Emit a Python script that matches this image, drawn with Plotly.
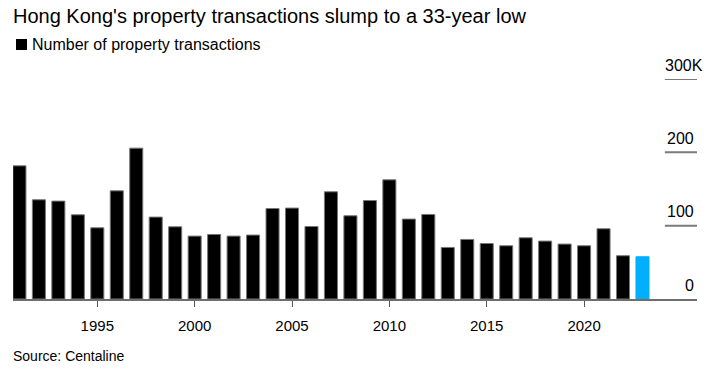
import plotly.graph_objects as go

years = list(range(1991, 2024))
transactions_k = [181.6, 135.3, 133.5, 114.8, 97.1, 147.5, 205.7, 111.7, 98.5, 85.8,
                  88.0, 85.8, 87.2, 123.4, 124.0, 98.9, 146.2, 113.5, 134.3, 162.5,
                  109.0, 115.3, 70.3, 81.2, 75.7, 72.6, 83.5, 79.0, 74.9, 72.6,
                  95.8, 59.0, 57.6]
highlight_year = 2023
y_ticks = [0, 100, 200, 300]
y_tick_labels = ["0", "100", "200", "300K"]
x_ticks = [1995, 2000, 2005, 2010, 2015, 2020]

title_text = "Hong Kong's property transactions slump to a 33-year low"
legend_text = "Number of property transactions"
source_text = "Source: Centaline"

FONT = "Liberation Sans, Arial, Helvetica, sans-serif"
X_MIN, X_MAX = 1990.67, 2025.8
GRID_X0 = 2024.15
colors = ["#00b0ff" if y == highlight_year else "#000000" for y in years]
line_colors = ["#00b0ff" if y == highlight_year else "#777777" for y in years]

fig = go.Figure()
fig.add_trace(go.Bar(
    x=years, y=transactions_k, width=0.67,
    marker=dict(color=colors, line=dict(color=line_colors, width=1)),
    showlegend=False, hoverinfo="x+y",
))

shapes = []
annotations = []
for v, lab in zip(y_ticks, y_tick_labels):
    if v > 0:
        shapes.append(dict(type="line", xref="x", yref="y", x0=GRID_X0, x1=X_MAX,
                           y0=v, y1=v, line=dict(color="#7a7a7a", width=2)))
    if lab.endswith("K"):
        annotations.append(dict(x=GRID_X0, y=v, xref="x", yref="y", text=lab, showarrow=False,
                                xanchor="left", yanchor="middle", xshift=-2, yshift=14,
                                font=dict(family=FONT, size=16, color="#000")))
    else:
        annotations.append(dict(x=X_MAX, y=v, xref="x", yref="y", text=lab, showarrow=False,
                                xanchor="right", yanchor="middle", xshift=-1, yshift=14,
                                font=dict(family=FONT, size=16, color="#000")))

def py(pix):
    return (299.0 - pix) / 220.0

annotations.append(dict(x=0, y=py(15.5), xref="paper", yref="paper", text=title_text,
                        showarrow=False, xanchor="left", yanchor="middle", xshift=-1,
                        borderpad=0,
                        font=dict(family=FONT, size=20, color="#000")))
annotations.append(dict(x=0, y=py(44.5), xref="paper", yref="paper", text=legend_text,
                        showarrow=False, xanchor="left", yanchor="middle", xshift=17,
                        font=dict(family=FONT, size=16, color="#000")))
annotations.append(dict(x=0, y=py(356), xref="paper", yref="paper", text=source_text,
                        showarrow=False, xanchor="left", yanchor="middle", xshift=-2,
                        font=dict(family=FONT, size=14, color="#000")))
shapes.append(dict(type="rect", xref="paper", yref="paper",
                   x0=3 / 684, x1=14 / 684, y0=py(50), y1=py(39),
                   fillcolor="#000", line=dict(width=0)))

fig.update_layout(
    width=724, height=375,
    margin=dict(l=13, r=27, t=79, b=76),
    paper_bgcolor="white", plot_bgcolor="white",
    shapes=shapes, annotations=annotations,
    xaxis=dict(range=[X_MIN, X_MAX], tickvals=x_ticks, ticktext=[str(t) for t in x_ticks],
               showgrid=False, zeroline=False, showline=True, linecolor="#6e6e6e", linewidth=1.5,
               ticks="outside", ticklen=6, tickwidth=1, tickcolor="#555",
               ticklabelstandoff=6,
               tickfont=dict(family=FONT, size=15, color="#000")),
    yaxis=dict(range=[0, 300], showgrid=False, zeroline=False, showticklabels=False,
               showline=False),
    font=dict(family=FONT),
)

fig.write_html("out.html", config={"displayModeBar": False},
               post_script="document.body.style.margin='0';document.body.style.overflow='hidden';")
